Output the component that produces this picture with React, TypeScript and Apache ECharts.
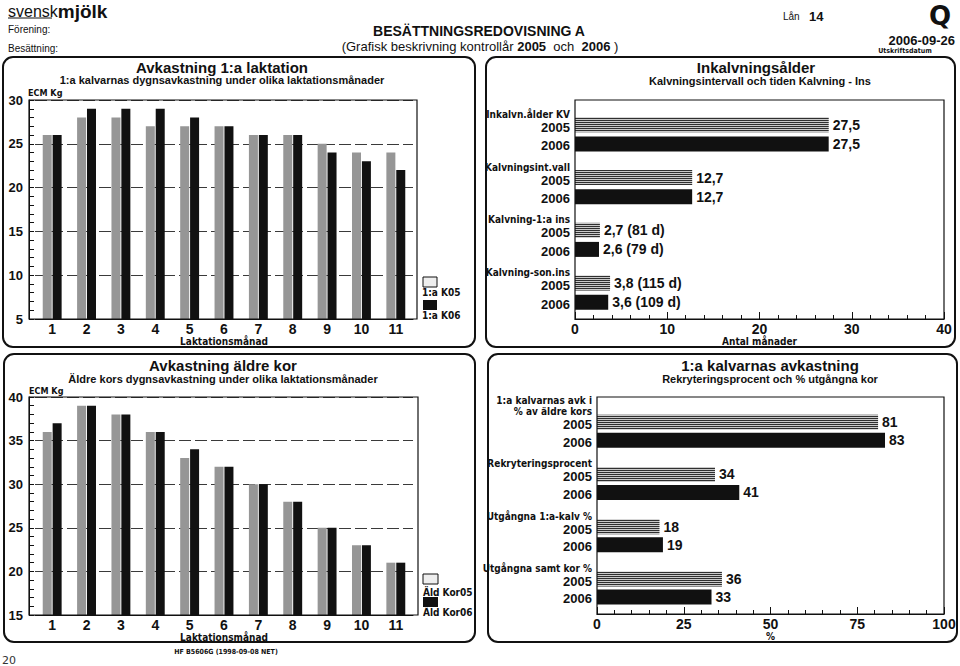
import React, { useEffect, useRef } from 'react';
import * as echarts from 'echarts';

// ---------- data ----------
const months = ['1', '2', '3', '4', '5', '6', '7', '8', '9', '10', '11'];
const firstLact05 = [26, 28, 28, 27, 27, 27, 26, 26, 25, 24, 24];
const firstLact06 = [26, 29, 29, 29, 28, 27, 26, 26, 24, 23, 22];
const olderCows05 = [36, 39, 38, 36, 33, 32, 30, 28, 25, 23, 21];
const olderCows06 = [37, 39, 38, 36, 34, 32, 30, 28, 25, 23, 21];

const calvingCats = ['Inkalvn.ålder KV', 'Kalvningsint.vall', 'Kalvning-1:a ins', 'Kalvning-son.ins'];
const calving05 = [27.5, 12.7, 2.7, 3.8];
const calving06 = [27.5, 12.7, 2.6, 3.6];
const calvingText05 = ['27,5', '12,7', '2,7 (81 d)', '3,8 (115 d)'];
const calvingText06 = ['27,5', '12,7', '2,6 (79 d)', '3,6 (109 d)'];

const recruitCats = ['1:a kalvarnas avk i\n% av äldre kors', 'Rekryteringsprocent', 'Utgångna 1:a-kalv %', 'Utgångna samt kor %'];
const recruit05 = [81, 34, 18, 36];
const recruit06 = [83, 41, 19, 33];

const years = ['2005', '2006'];

// ---------- styles ----------
const FONT = '"Liberation Sans", Arial, sans-serif';
const NARROW = '"Liberation Sans Narrow", "DejaVu Sans Condensed", "Liberation Sans", sans-serif';
const INK = '#111';
const GRAY = '#969696';

const txt = (x: number, y: number, text: string, font: string, align = 'left', extra: any = {}) => ({
  type: 'text',
  x,
  y,
  z: 20,
  silent: true,
  style: { text, font, fill: INK, textAlign: align, textVerticalAlign: 'middle', ...extra },
});

const rect = (x: number, y: number, w: number, h: number, style: any, r = 0) => ({
  type: 'rect',
  z: 15,
  silent: true,
  shape: { x, y, width: w, height: h, r },
  style,
});

const catX = (grid: number, gap: number) => ({
  type: 'category',
  gridIndex: grid,
  data: months,
  axisLine: { show: true, lineStyle: { color: INK, width: 1 } },
  axisTick: { show: false },
  axisLabel: { color: INK, fontSize: 14, fontWeight: 'bold', fontFamily: FONT, margin: 3 },
  name: 'Laktationsmånad',
  nameLocation: 'middle',
  nameGap: gap,
  nameTextStyle: { color: INK, fontSize: 10, fontWeight: 'bold', fontFamily: NARROW },
});

const valY = (grid: number, min: number, max: number) => ({
  type: 'value',
  gridIndex: grid,
  min,
  max,
  interval: 5,
  offset: 6,
  axisLine: { show: true, lineStyle: { color: INK, width: 1 } },
  axisTick: { show: true, inside: true, length: 5, lineStyle: { color: INK } },
  minorTick: { show: true, splitNumber: 5, length: 5, lineStyle: { color: INK } },
  splitLine: { show: true, lineStyle: { color: '#3a3a3a', width: 1, type: [12, 4] } },
  axisLabel: { color: INK, fontSize: 13, fontWeight: 'bold', fontFamily: FONT, margin: 6 },
});

const valX = (grid: number, max: number, interval: number, name: string, gap: number) => ({
  type: 'value',
  gridIndex: grid,
  min: 0,
  max,
  interval,
  axisLine: { show: true, lineStyle: { color: INK, width: 1 } },
  axisTick: { show: true, inside: true, length: 7, lineStyle: { color: INK } },
  minorTick: { show: true, splitNumber: 5, length: 4, lineStyle: { color: INK } },
  splitLine: { show: false },
  axisLabel: { color: INK, fontSize: 14, fontWeight: 'bold', fontFamily: FONT, margin: 3 },
  name,
  nameLocation: 'middle',
  nameGap: gap,
  nameTextStyle: { color: INK, fontSize: 10, fontWeight: 'bold', fontFamily: NARROW },
});

const catY = (grid: number, data: string[]) => ({
  type: 'category',
  gridIndex: grid,
  data,
  inverse: true,
  axisLine: { show: false },
  axisTick: { show: false },
  axisLabel: { show: false },
});

const stripe = {
  color: '#c9c9c9',
  decal: {
    symbol: 'rect',
    symbolSize: 1,
    dashArrayX: [1, 0],
    dashArrayY: [1, 1],
    color: 'rgba(20,20,20,0.85)',
  },
};

const labelRich = {
  n: { fontSize: 10, fontWeight: 'bold', fontFamily: NARROW, lineHeight: 11, color: INK, align: 'right' },
  y: { fontSize: 13, fontWeight: 'bold', fontFamily: FONT, lineHeight: 15, color: INK, align: 'right' },
};

const hBars = (xi: number, cats: string[], v05: number[], v06: number[], t05: string[], t06: string[], gap: string) => {
  const valueLabel = (texts: string[]) => ({
    show: true,
    position: 'right',
    distance: 4,
    color: INK,
    fontSize: 14,
    fontWeight: 'bold',
    fontFamily: FONT,
    formatter: (p: any) => texts[p.dataIndex],
  });
  const common = { type: 'bar', xAxisIndex: xi, yAxisIndex: xi, barWidth: 15, barGap: gap, silent: true };
  // first ghost: group name above the 2005 year label
  const ghost05 = cats.map((c) => {
    const lines = c.split('\n');
    const h = lines.length * 11 + 15;
    return {
      value: 0,
      label: {
        offset: [0, 10 - h / 2],
        formatter: lines.map((l) => `{n|${l}}`).join('\n') + `\n{y|${years[0]}}`,
      },
    };
  });
  return [
    {
      ...common, name: 'y05', stack: 's05' + xi, data: ghost05, itemStyle: { color: 'rgba(0,0,0,0)' },
      label: { show: true, position: 'left', distance: 5, rich: labelRich },
    },
    { ...common, name: years[0], stack: 's05' + xi, data: v05, itemStyle: stripe, label: valueLabel(t05) },
    {
      ...common, name: 'y06', stack: 's06' + xi, data: v06.map(() => 0), itemStyle: { color: 'rgba(0,0,0,0)' },
      label: { show: true, position: 'left', distance: 5, offset: [0, 2], formatter: `{y|${years[1]}}`, rich: labelRich },
    },
    { ...common, name: years[1], stack: 's06' + xi, data: v06, itemStyle: { color: INK }, label: valueLabel(t06) },
  ];
};

const vBars = (gi: number, v05: number[], v06: number[]) => [
  { type: 'bar', xAxisIndex: gi, yAxisIndex: gi, data: v05, barWidth: 9, barGap: '10%', itemStyle: { color: GRAY }, silent: true, clip: true },
  { type: 'bar', xAxisIndex: gi, yAxisIndex: gi, data: v06, barWidth: 9, barGap: '10%', itemStyle: { color: INK }, silent: true, clip: true },
];

export default function App() {
  const ref = useRef<HTMLDivElement>(null);
  useEffect(() => {
    if (!ref.current) return;
    const chart = echarts.init(ref.current, null, { renderer: 'svg' });
    const panel = { fill: 'none', stroke: INK, lineWidth: 2 };
    const frame = { fill: 'none', stroke: INK, lineWidth: 1.2 };
    const option: any = {
      animation: false,
      backgroundColor: '#fff',
      grid: [
        { left: 35, right: 547, top: 100, bottom: 347 },
        { left: 575, right: 16, top: 108, bottom: 347 },
        { left: 35, right: 547, top: 397, bottom: 51 },
        { left: 597, right: 16, top: 405, bottom: 52 },
      ],
      xAxis: [catX(0, 14), valX(1, 40, 10, 'Antal månader', 14), catX(2, 15), valX(3, 100, 25, '%', 15)],
      yAxis: [valY(0, 5, 30), catY(1, calvingCats), valY(2, 15, 40), catY(3, recruitCats)],
      series: [
        ...vBars(0, firstLact05, firstLact06),
        ...hBars(1, calvingCats, calving05, calving06, calvingText05, calvingText06, '27%'),
        ...vBars(2, olderCows05, olderCows06),
        ...hBars(3, recruitCats, recruit05, recruit06, recruit05.map(String), recruit06.map(String), '20%'),
      ],
      graphic: [
        // header
        {
          type: 'text', x: 8, y: 11, z: 20, silent: true,
          style: {
            text: '{a|svensk}{b|mjölk}',
            textVerticalAlign: 'middle',
            rich: {
              a: { font: '16px ' + FONT, fill: INK },
              b: { font: 'bold 19px ' + FONT, fill: INK },
            },
          },
        },
        { type: 'line', z: 20, silent: true, shape: { x1: 8, y1: 18, x2: 52, y2: 18 }, style: { stroke: INK, lineWidth: 1 } },
        txt(8, 29, 'Förening:', '10px ' + FONT),
        txt(8, 48, 'Besättning:', '10px ' + FONT),
        txt(479, 31, 'BESÄTTNINGSREDOVISNING A', 'bold 14px ' + FONT, 'center'),
        {
          type: 'text', x: 480, y: 46, z: 20, silent: true,
          style: {
            text: '{r|(Grafisk beskrivning kontrollår }{b|2005}{r|  och  }{b|2006}{r| )}',
            textAlign: 'center',
            textVerticalAlign: 'middle',
            rich: {
              r: { font: '13px ' + FONT, fill: INK },
              b: { font: 'bold 13px ' + FONT, fill: INK },
            },
          },
        },
        txt(783, 16, 'Lån', '10px ' + FONT),
        txt(809, 16, '14', 'bold 13px ' + FONT),
        txt(940, 16, 'Q', 'bold 26px "DejaVu Sans", sans-serif', 'center'),
        txt(955, 40, '2006-09-26', 'bold 13px ' + FONT, 'right'),
        txt(905, 51, 'Utskriftsdatum', 'bold 7px ' + NARROW, 'center'),

        // panels
        rect(3, 57, 472, 290, panel, 10),
        rect(486, 57, 469, 290, panel, 10),
        rect(4, 354, 471, 288, panel, 10),
        rect(488, 354, 469, 288, panel, 10),

        // plot frames
        rect(29, 100, 388, 219, frame),
        rect(575, 100, 369, 219, frame),
        rect(29, 397, 389, 218, frame),
        rect(597, 397, 347, 217, frame),

        // panel titles
        txt(222, 67, 'Avkastning 1:a laktation', 'bold 15px ' + FONT, 'center'),
        txt(222, 80, '1:a kalvarnas dygnsavkastning under olika laktationsmånader', 'bold 11px ' + FONT, 'center'),
        txt(28, 93, 'ECM Kg', 'bold 9px ' + NARROW),
        txt(756, 67, 'Inkalvningsålder', 'bold 15px ' + FONT, 'center'),
        txt(760, 81, 'Kalvningsintervall och tiden Kalvning - Ins', 'bold 11px ' + FONT, 'center'),
        txt(223, 365, 'Avkastning äldre kor', 'bold 15px ' + FONT, 'center'),
        txt(223, 379, 'Äldre kors dygnsavkastning under olika laktationsmånader', 'bold 11px ' + FONT, 'center'),
        txt(29, 391, 'ECM Kg', 'bold 9px ' + NARROW),
        txt(770, 365, '1:a kalvarnas avkastning', 'bold 15px ' + FONT, 'center'),
        txt(770, 379, 'Rekryteringsprocent och % utgångna kor', 'bold 11px ' + FONT, 'center'),

        // legends
        rect(423, 277, 14, 10, { fill: '#eeeeee', stroke: INK, lineWidth: 1 }),
        txt(422, 292, '1:a K05', 'bold 10px ' + NARROW),
        rect(423, 300, 14, 10, { fill: INK }),
        txt(422, 315, '1:a K06', 'bold 10px ' + NARROW),
        rect(423, 574, 15, 10, { fill: '#eeeeee', stroke: INK, lineWidth: 1 }),
        txt(423, 592, 'Äld Kor05', 'bold 10px ' + NARROW),
        rect(423, 597, 15, 10, { fill: INK }),
        txt(423, 612, 'Äld Kor06', 'bold 10px ' + NARROW),

        // footer
        txt(226, 652, 'HF B5606G (1998-09-08 NET)', 'bold 7px ' + NARROW, 'center'),
        txt(2, 660, '20', '11px "DejaVu Sans", sans-serif', 'left', { fill: '#333' }),
      ],
    };
    chart.setOption(option);
    return () => chart.dispose();
  }, []);
  return <div ref={ref} style={{ position: 'absolute', left: 0, top: 0, width: 960, height: 666 }} />;
}
